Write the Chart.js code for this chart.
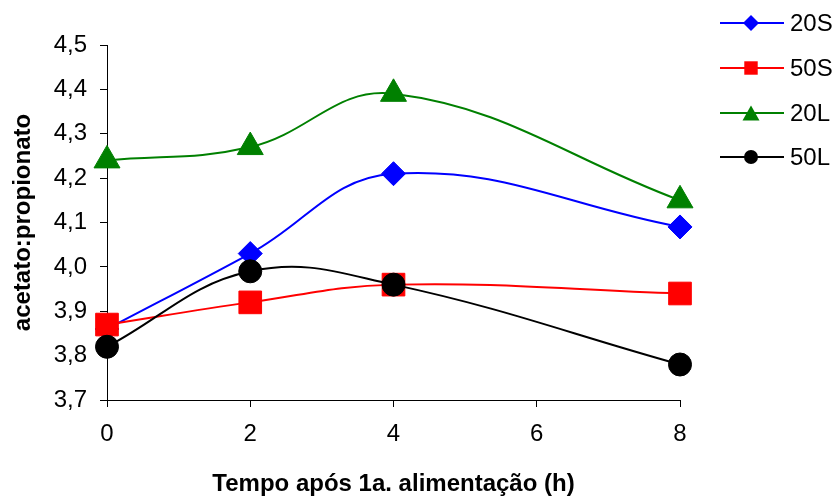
<!DOCTYPE html>
<html>
<head>
<meta charset="utf-8">
<script src="https://cdn.jsdelivr.net/npm/chart.js@4.4.1/dist/chart.umd.min.js"></script>
<style>
  html, body { margin: 0; padding: 0; background: #fff; }
  #wrap { width: 836px; height: 499px; }
</style>
</head>
<body>
<div id="wrap"><canvas id="ratioChart" width="836" height="499"></canvas></div>
<script>
// ===== DONNÉES =====
const hours = [0, 2, 4, 8];
const seriesNames = ['20S', '50S', '20L', '50L'];
const s20 = [3.86, 4.03, 4.21, 4.09];
const s50 = [3.87, 3.92, 3.96, 3.94];
const l20 = [4.24, 4.27, 4.39, 4.15];
const l50 = [3.82, 3.99, 3.96, 3.78];
const xTicks = [0, 2, 4, 6, 8];
const yTicks = [3.7, 3.8, 3.9, 4.0, 4.1, 4.2, 4.3, 4.4, 4.5];

const FONT = '"Liberation Sans", Arial, sans-serif';

// style per série : couleur, forme du marqueur, rayon sur la courbe, rayon dans la légende
const styles = [
    { color: '#0000ff', shape: 'rectRot',  radius: 12, legendRadius: 8 },
    { color: '#ff0000', shape: 'rect',     radius: 16, legendRadius: 9.5 },
    { color: '#008000', shape: 'triangle', radius: 15, legendRadius: 10 },
    { color: '#000000', shape: 'circle',   radius: 11.5, legendRadius: 7 }
];
const values = [s20, s50, l20, l50];

function toPoints(arr) {
    return hours.map((h, i) => ({ x: h, y: arr[i] }));
}

function fmtComma(v) {
    return v.toFixed(1).replace('.', ',');
}

// ===== MARQUEURS DE LA LÉGENDE =====
function drawMarker(ctx, shape, x, y, r) {
    ctx.beginPath();
    if (shape === 'circle') {
        ctx.arc(x, y, r, 0, Math.PI * 2);
    } else if (shape === 'rect') {
        const s = r * Math.SQRT1_2;
        ctx.rect(x - s, y - s, 2 * s, 2 * s);
    } else if (shape === 'rectRot') {
        ctx.moveTo(x - r, y);
        ctx.lineTo(x, y - r);
        ctx.lineTo(x + r, y);
        ctx.lineTo(x, y + r);
        ctx.closePath();
    } else if (shape === 'triangle') {
        const h = r * 0.75;
        const w = r * 0.85;
        ctx.moveTo(x, y - h);
        ctx.lineTo(x + w, y + h);
        ctx.lineTo(x - w, y + h);
        ctx.closePath();
    }
    ctx.fill();
}

const sideLegend = {
    id: 'sideLegend',
    afterDraw(chart) {
        const ctx = chart.ctx;
        const rowsY = [23, 68, 113, 157];
        ctx.save();
        ctx.font = '24px ' + FONT;
        ctx.textBaseline = 'middle';
        ctx.textAlign = 'left';
        seriesNames.forEach((name, i) => {
            const st = styles[i];
            const y = rowsY[i];
            ctx.strokeStyle = st.color;
            ctx.fillStyle = st.color;
            ctx.lineWidth = 2;
            ctx.beginPath();
            ctx.moveTo(720, y);
            ctx.lineTo(784, y);
            ctx.stroke();
            drawMarker(ctx, st.shape, 751, y, st.legendRadius);
            ctx.fillStyle = '#000';
            ctx.fillText(name, 790, y + 1);
        });
        ctx.restore();
    }
};

// ===== GRAPHIQUE =====
const datasets = seriesNames.map((name, i) => ({
    label: name,
    data: toPoints(values[i]),
    borderColor: styles[i].color,
    backgroundColor: styles[i].color,
    pointBackgroundColor: styles[i].color,
    pointBorderColor: styles[i].color,
    pointBorderWidth: 1,
    pointStyle: styles[i].shape,
    pointRadius: styles[i].radius,
    pointHoverRadius: styles[i].radius,
    borderWidth: 2,
    tension: 0.4,
    fill: false,
    clip: false,
    order: 4 - i
}));

const ctx = document.getElementById('ratioChart').getContext('2d');
window.ratioChart = new Chart(ctx, {
    type: 'line',
    data: { datasets: datasets },
    options: {
        responsive: false,
        animation: false,
        layout: { padding: { top: 45, right: 156, left: 0, bottom: 0 } },
        plugins: {
            legend: { display: false },
            tooltip: { enabled: false }
        },
        scales: {
            x: {
                type: 'linear',
                min: 0,
                max: 8,
                afterFit(scale) { scale.height = 99; },
                afterBuildTicks(scale) { scale.ticks = xTicks.map(v => ({ value: v })); },
                ticks: {
                    color: '#000',
                    padding: 13,
                    font: { family: FONT, size: 24 },
                    callback: v => String(v)
                },
                grid: { drawOnChartArea: false, drawTicks: true, tickLength: 7, color: '#000' },
                border: { color: '#000', width: 1 },
                title: {
                    display: true,
                    text: 'Tempo após 1a. alimentação (h)',
                    color: '#000',
                    font: { family: FONT, size: 24, weight: 'bold' },
                    padding: { top: 0, bottom: 0 }
                }
            },
            y: {
                type: 'linear',
                min: 3.7,
                max: 4.5,
                afterFit(scale) { scale.width = 107; },
                afterBuildTicks(scale) { scale.ticks = yTicks.map(v => ({ value: v })); },
                ticks: {
                    color: '#000',
                    padding: 13,
                    font: { family: FONT, size: 24 },
                    callback: v => fmtComma(v)
                },
                grid: { drawOnChartArea: false, drawTicks: true, tickLength: 7, color: '#000' },
                border: { color: '#000', width: 1 },
                title: {
                    display: true,
                    text: 'acetato:propionato',
                    color: '#000',
                    font: { family: FONT, size: 24, weight: 'bold' },
                    padding: { top: 9, bottom: 0 }
                }
            }
        }
    },
    plugins: [sideLegend]
});
</script>
</body>
</html>
